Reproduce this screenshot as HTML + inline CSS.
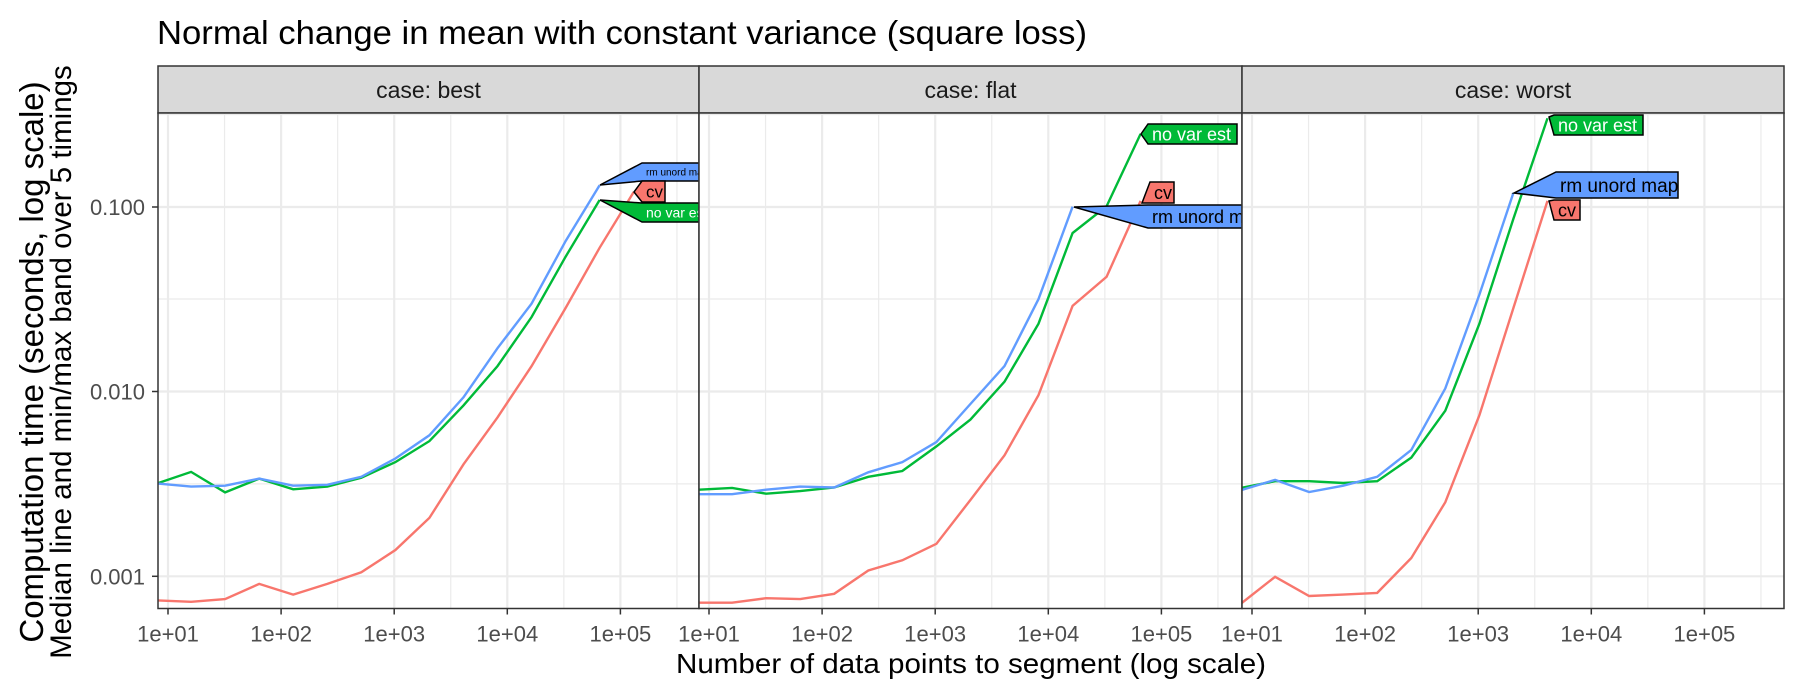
<!DOCTYPE html>
<html><head><meta charset="utf-8"><style>
body{margin:0;background:#fff}
svg{display:block;font-family:"Liberation Sans",sans-serif}
</style></head><body>
<svg id="s" width="1800" height="700" xmlns="http://www.w3.org/2000/svg">
<text x="157" y="44" font-size="33" fill="#000" textLength="930" lengthAdjust="spacingAndGlyphs">Normal change in mean with constant variance (square loss)</text>
<text transform="translate(43,362) rotate(-90)" font-size="33" text-anchor="middle" fill="#000">Computation time (seconds, log scale)</text>
<text transform="translate(71,362) rotate(-90)" font-size="29.5" text-anchor="middle" fill="#000">Median line and min/max band over 5 timings</text>
<text x="971" y="673" font-size="28" text-anchor="middle" fill="#000" textLength="590" lengthAdjust="spacingAndGlyphs">Number of data points to segment (log scale)</text>
<g id="g"></g>
</svg>
<script>
const NS="http://www.w3.org/2000/svg";
const g=document.getElementById('g');
function el(t,a,p){const e=document.createElementNS(NS,t);for(const k in a)e.setAttribute(k,a[k]);(p||g).appendChild(e);return e;}
const L=[158,699,1242],W=[541,543,542],T=113,B=608.5;
const names=["case: best","case: flat","case: worst"];
const Y=v=>v/2.24;
const cols={r:"#F8766D",g:"#00BA38",b:"#619CFF"};
const data=[
 {b:[1083,1090,1088,1072,1088,1086,1068,1027,975,890,780,680,540,415],
  g:[1083,1057,1103,1072,1096,1090,1070,1035,988,908,820,710,575,448],
  r:[1345,1348,1342,1308,1332,1308,1282,1232,1160,1040,935,820,690,555,430]},
 {b:[1107,1107,1097,1090,1092,1058,1035,990,905,820,670,463],
  g:[1097,1093,1106,1100,1092,1068,1055,1000,940,855,725,522,462,300],
  r:[1350,1350,1340,1342,1330,1278,1255,1218,1120,1020,885,685,620,450]},
 {b:[1098,1075,1102,1088,1068,1008,870,660,432],
  g:[1093,1078,1078,1082,1078,1025,920,725,490,265],
  r:[1352,1292,1335,1332,1328,1250,1125,930,690,450]}];
const labels=[
 [["b",600,185,642,163,699,181,"rm unord map",10,"#000"],["r",634,192,642,181,665,202,"cv",17,"#000"],["g",600,200,642,203,699,222,"no var est",14,"#fff"]],
 [["g",1141,134,1148,124,1237,144,"no var est",18,"#fff"],["r",1142,203,1150,182,1174,203,"cv",18,"#000"],["b",1074,207,1148,205,1242,228,"rm unord map",18,"#000"]],
 [["g",1549,117,1554,115,1643,135,"no var est",18,"#fff"],["b",1514,193,1556,172,1678,198,"rm unord map",19,"#000"],["r",1549,201,1554,200,1580,220,"cv",18,"#000"]]];
for(let p=0;p<3;p++){
 const x0=L[p],w=W[p];
 const X=l=>x0+10+(l-1)*113.1;
 el('rect',{x:x0,y:66,width:w,height:47,fill:"#d9d9d9",stroke:"#333","stroke-width":1.5});
 el('text',{x:x0+w/2,y:98,"font-size":23,fill:"#1a1a1a","text-anchor":"middle"}).textContent=names[p];
 el('rect',{x:x0,y:T,width:w,height:B-T,fill:"#fff"});
 const cp=el('clipPath',{id:"c"+p});el('rect',{x:x0,y:T,width:w,height:B-T},cp);
 const gg=el('g',{"clip-path":"url(#c"+p+")"});
 for(let l=0.5;l<6;l++){el('line',{x1:X(l),x2:X(l),y1:T,y2:B,stroke:"#ebebeb","stroke-width":1.2},gg);}
 for(const yy of [299,483.9,114.5]){el('line',{x1:x0,x2:x0+w,y1:yy,y2:yy,stroke:"#ebebeb","stroke-width":1.2},gg);}
 for(let l=1;l<=5;l++){el('line',{x1:X(l),x2:X(l),y1:T,y2:B,stroke:"#ebebeb","stroke-width":2.2},gg);}
 for(const yy of [207,391.5,576.3]){el('line',{x1:x0,x2:x0+w,y1:yy,y2:yy,stroke:"#ebebeb","stroke-width":2.2},gg);}
 for(const c of ["r","g","b"]){
  const arr=data[p][c];
  const pts=arr.map((v,i)=>X((i+3)*Math.log10(2)).toFixed(1)+","+Y(v).toFixed(1)).join(" ");
  el('polyline',{points:pts,fill:"none",stroke:cols[c],"stroke-width":2.4},gg);
 }
 for(const lb of labels[p]){
  const [c,tx,ty,bx1,by1,bx2,by2,txt,fs,fc]=lb;
  const ext=(p<2&&bx2>=x0+w-1)?bx2+60:bx2;
  el('polygon',{points:`${tx},${ty} ${bx1},${by1} ${ext},${by1} ${ext},${by2} ${bx1},${by2}`,fill:cols[c],stroke:"#000","stroke-width":1.5},gg);
  el('text',{x:bx1+4,y:(by1+by2)/2+fs*0.36,"font-size":fs,fill:fc},gg).textContent=txt;
 }
 el('rect',{x:x0,y:T,width:w,height:B-T,fill:"none",stroke:"#333","stroke-width":1.5});
 const ex=["1e+01","1e+02","1e+03","1e+04","1e+05"];
 for(let l=1;l<=5;l++){
  el('line',{x1:X(l),x2:X(l),y1:B,y2:B+6,stroke:"#333","stroke-width":1.5});
  el('text',{x:X(l),y:B+33,"font-size":22,fill:"#4d4d4d","text-anchor":"middle"}).textContent=ex[l-1];
 }
}
const yl=[["0.100",207],["0.010",391.5],["0.001",576.3]];
for(const [t,yy] of yl){
 el('line',{x1:152,x2:158,y1:yy,y2:yy,stroke:"#333","stroke-width":1.5});
 el('text',{x:145,y:yy+8,"font-size":22,fill:"#4d4d4d","text-anchor":"end"}).textContent=t;
}
</script>
</body></html>
